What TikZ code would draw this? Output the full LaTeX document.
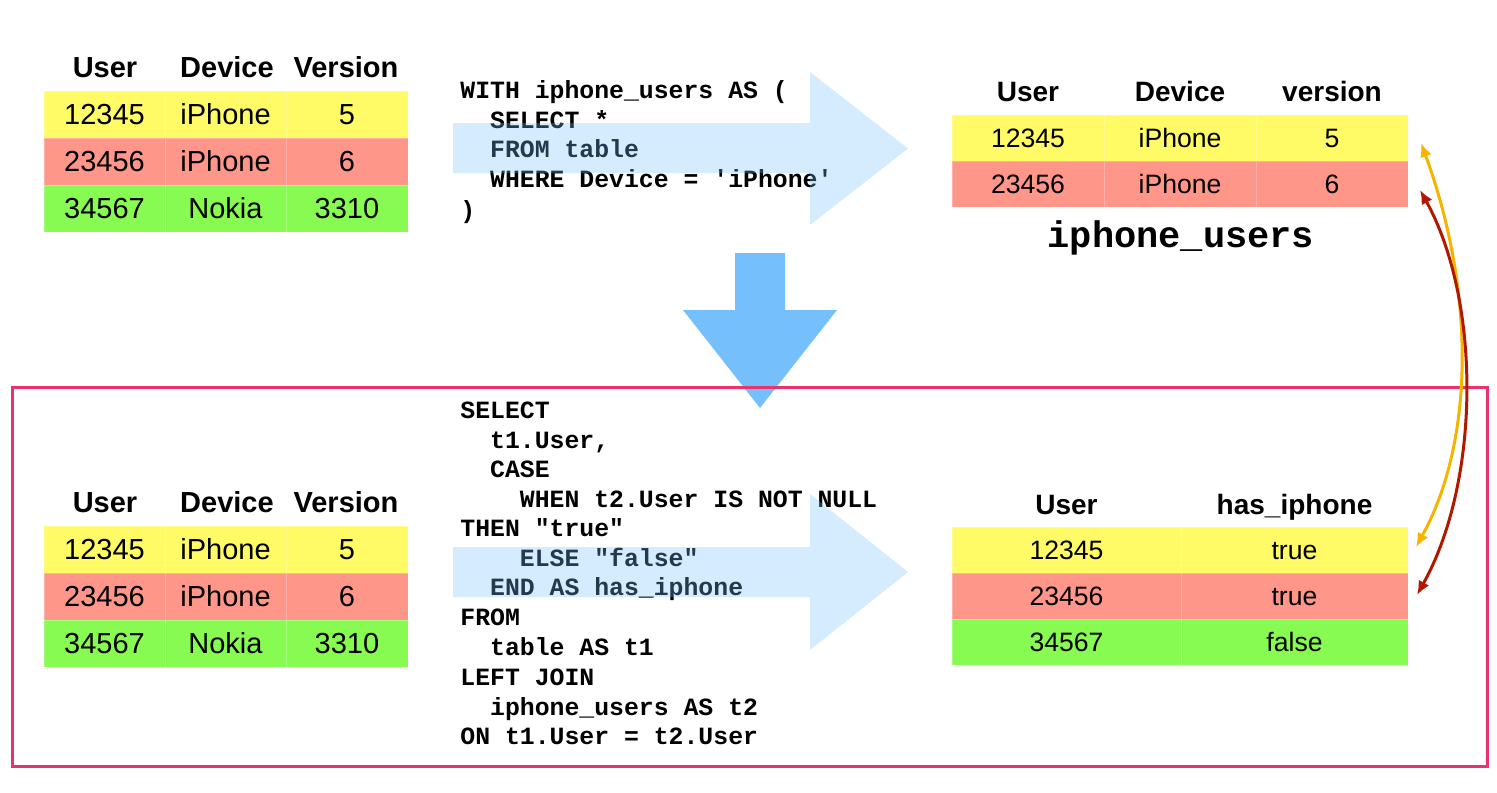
\documentclass[tikz,border=0pt]{standalone}
\usepackage{fontspec}
\setmainfont{Liberation Sans}
\newfontfamily\codefont{Liberation Mono}
\usetikzlibrary{arrows.meta}
\definecolor{ylw}{HTML}{FFFB66}
\definecolor{sal}{HTML}{FF968A}
\definecolor{grn}{HTML}{88FB52}
\definecolor{sky}{HTML}{74BFFC}
\definecolor{framec}{HTML}{E8336E}
\definecolor{orng}{HTML}{F5B400}
\definecolor{dred}{HTML}{B01800}
\newcommand\ind[1]{\phantom{#1}}
\begin{document}
\begin{tikzpicture}[x=0.5pt,y=-0.5pt,
  cellL/.style={inner sep=0pt, outer sep=0pt, minimum height=23.5pt, text height=10.4pt, text depth=0pt,
    font=\fontsize{14.5}{17}\selectfont, draw=white, draw opacity=0.25, line width=0.4pt},
  cellR/.style={inner sep=0pt, outer sep=0pt, minimum height=23pt, text height=9.5pt, text depth=0pt,
    font=\fontsize{13.3}{16}\selectfont, draw=white, draw opacity=0.25, line width=0.4pt},
  hdrL/.style={inner sep=0pt, text height=10.4pt, text depth=0pt, font=\fontsize{14.5}{17}\selectfont\bfseries},
  hdrR/.style={inner sep=0pt, text height=10pt, text depth=0pt, font=\fontsize{14}{17}\selectfont\bfseries},
  code/.style={inner sep=0pt, anchor=base west, font=\codefont\fontsize{12.4}{14.8}\selectfont\bfseries},
  lightarrow/.style={fill=sky, opacity=0.3},
  tipL/.tip={Latex[length=7pt,width=6pt]},
  link/.style={line width=1.5pt, tipL-tipL}
]
\useasboundingbox (0,0) rectangle (1497,792);

% ---------- top-left table ----------
\node[hdrL] (h1) at (105,67) {User};
\node[hdrL] (h2) at (227,67) {Device};
\node[hdrL] (h3) at (346,67) {Version};
\node[cellL, fill=ylw, minimum width=60.5pt] (a11) at (104.5,114.5) {12345};
\node[cellL, fill=ylw, minimum width=60.5pt] (a12) at (225.5,114.5) {iPhone};
\node[cellL, fill=ylw, minimum width=61pt] (a13) at (347,114.5) {5};
\node[cellL, fill=sal, minimum width=60.5pt] (a21) at (104.5,161.5) {23456};
\node[cellL, fill=sal, minimum width=60.5pt] (a22) at (225.5,161.5) {iPhone};
\node[cellL, fill=sal, minimum width=61pt] (a23) at (347,161.5) {6};
\node[cellL, fill=grn, minimum width=60.5pt] (a31) at (104.5,208.5) {34567};
\node[cellL, fill=grn, minimum width=60.5pt] (a32) at (225.5,208.5) {Nokia};
\node[cellL, fill=grn, minimum width=61pt] (a33) at (347,208.5) {3310};

% ---------- top code ----------
\node[code] (c1) at (460,98) {WITH iphone\_users AS (};
\node[code] (c2) at (460,128) {\ind{xx}SELECT *};
\node[code] (c3) at (460,157) {\ind{xx}FROM table};
\node[code] (c4) at (460,187) {\ind{xx}WHERE Device = \textquotesingle iPhone\textquotesingle};
\node[code] (c5) at (460,218) {)};
\fill[lightarrow] (453,123) -- (810,123) -- (810,72) -- (908,148.5) -- (810,225) -- (810,173) -- (453,173) -- cycle;

% ---------- top-right table ----------
\node[hdrR] (g1) at (1028,92) {User};
\node[hdrR] (g2) at (1180,92) {Device};
\node[hdrR] (g3) at (1332,92) {version};
\node[cellR, fill=ylw, minimum width=76pt] (b11) at (1028,138) {12345};
\node[cellR, fill=ylw, minimum width=76pt] (b12) at (1180,138) {iPhone};
\node[cellR, fill=ylw, minimum width=76pt] (b13) at (1332,138) {5};
\node[cellR, fill=sal, minimum width=76pt] (b21) at (1028,184) {23456};
\node[cellR, fill=sal, minimum width=76pt] (b22) at (1180,184) {iPhone};
\node[cellR, fill=sal, minimum width=76pt] (b23) at (1332,184) {6};
\node[inner sep=0pt, anchor=base, font=\codefont\fontsize{18.5}{22}\selectfont\bfseries] (lbl) at (1181,247) {iphone\_users};

% ---------- down arrow ----------
\fill[sky] (735,253) -- (785,253) -- (785,310) -- (837,310) -- (760,408) -- (683,310) -- (735,310) -- cycle;

% ---------- bottom-left table ----------
\node[hdrL] (k1) at (105,502) {User};
\node[hdrL] (k2) at (227,502) {Device};
\node[hdrL] (k3) at (346,502) {Version};
\node[cellL, fill=ylw, minimum width=60.5pt] (e11) at (104.5,549.5) {12345};
\node[cellL, fill=ylw, minimum width=60.5pt] (e12) at (225.5,549.5) {iPhone};
\node[cellL, fill=ylw, minimum width=61pt] (e13) at (347,549.5) {5};
\node[cellL, fill=sal, minimum width=60.5pt] (e21) at (104.5,596.5) {23456};
\node[cellL, fill=sal, minimum width=60.5pt] (e22) at (225.5,596.5) {iPhone};
\node[cellL, fill=sal, minimum width=61pt] (e23) at (347,596.5) {6};
\node[cellL, fill=grn, minimum width=60.5pt] (e31) at (104.5,643.5) {34567};
\node[cellL, fill=grn, minimum width=60.5pt] (e32) at (225.5,643.5) {Nokia};
\node[cellL, fill=grn, minimum width=61pt] (e33) at (347,643.5) {3310};

% ---------- bottom code ----------
\node[code] (d1) at (460,418) {SELECT};
\node[code] (d2) at (460,448) {\ind{xx}t1.User,};
\node[code] (d3) at (460,477) {\ind{xx}CASE};
\node[code] (d4) at (460,507) {\ind{xxxx}WHEN t2.User IS NOT NULL};
\node[code] (d5) at (460,536) {THEN \textquotedbl true\textquotedbl};
\node[code] (d6) at (460,566) {\ind{xxxx}ELSE \textquotedbl false\textquotedbl};
\node[code] (d7) at (460,595) {\ind{xx}END AS has\_iphone};
\node[code] (d8) at (460,625) {FROM};
\node[code] (d9) at (460,655) {\ind{xx}table AS t1};
\node[code] (d10) at (460,685) {LEFT JOIN};
\node[code] (d11) at (460,715) {\ind{xx}iphone\_users AS t2};
\node[code] (d12) at (460,744) {ON t1.User = t2.User};
\fill[lightarrow] (453,547) -- (810,547) -- (810,494) -- (908,572) -- (810,650) -- (810,597) -- (453,597) -- cycle;

% ---------- bottom-right table ----------
\node[hdrR] (m1) at (1066.5,504) {User};
\node[hdrR] (m2) at (1294.5,504) {has\_iphone};
\node[cellR, fill=ylw, minimum width=114.5pt] (f11) at (1066.5,550) {12345};
\node[cellR, fill=ylw, minimum width=113.5pt] (f12) at (1294.5,550) {true};
\node[cellR, fill=sal, minimum width=114.5pt] (f21) at (1066.5,596) {23456};
\node[cellR, fill=sal, minimum width=113.5pt] (f22) at (1294.5,596) {true};
\node[cellR, fill=grn, minimum width=114.5pt] (f31) at (1066.5,642) {34567};
\node[cellR, fill=grn, minimum width=113.5pt] (f32) at (1294.5,642) {false};

% ---------- frame ----------
\draw[framec, line width=1.5pt] (12,387) rectangle (1487,766);

% ---------- links ----------
\coordinate (oT) at (1421,143);
\coordinate (oB) at (1416,547);
\coordinate (rT) at (1420,190);
\coordinate (rB) at (1417,595);
\draw[link, orng] (oT) .. controls (1475,290) and (1475,440) .. (oB);
\draw[link, dred] (rT) .. controls (1481,300) and (1481,480) .. (rB);
\end{tikzpicture}
\end{document}
